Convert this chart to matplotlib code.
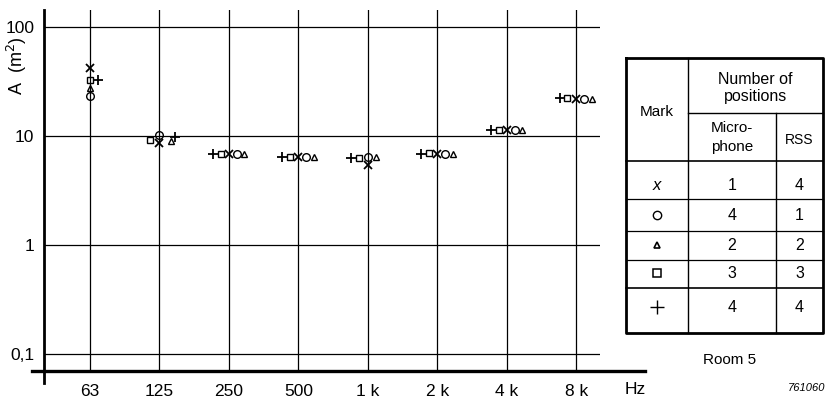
import matplotlib.pyplot as plt
import numpy as np

plt.rcParams['font.family'] = ['Liberation Sans', 'DejaVu Sans']

# octave band centre frequencies
freqs = ['63', '125', '250', '500', '1 k', '2 k', '4 k', '8 k']

# equivalent absorption area A (m^2) for each measurement arrangement
area_x = [42, 8.7, 6.8, 6.4, 5.4, 6.8, 11.3, 22]
area_circle = [23.3, 10.2, 6.8, 6.4, 6.4, 6.8, 11.3, 22]
area_triangle = [27.5, 8.9, 6.9, 6.4, 6.4, 6.8, 11.3, 22]
area_square = [32.5, 9.2, 6.9, 6.4, 6.3, 7.0, 11.4, 22.5]
area_plus = [32.5, 9.8, 6.9, 6.4, 6.3, 6.9, 11.4, 22.5]

# number of positions: microphone / RSS
mic_positions = [1, 4, 2, 3, 4]
rss_positions = [4, 1, 2, 3, 4]

# small sideways shifts so the symbols in a band don't sit on top of each other
shift_x = [0, 0, 0, 0, 0, 0, 0, 0]
shift_circle = [0, 0, .11, .11, 0, .11, .11, .11]
shift_triangle = [0, .16, .22, .22, .11, .22, .22, .22]
shift_square = [0, -.13, -.115, -.115, -.13, -.115, -.115, -.13]
shift_plus = [.12, .22, -.23, -.23, -.25, -.23, -.23, -.23]

W, H = 833, 398
fig = plt.figure(figsize=(W / 100, H / 100), dpi=100)
fig.patch.set_facecolor('white')

# plot area in pixels
L, R, T, B = 44, 600, 10, 371
ax = fig.add_axes([L / W, 1 - B / H, (R - L) / W, (B - T) / H])
ax.set_yscale('log')
ax.set_ylim(0.0698, 143)
ax.set_xlim(-0.662, 7.34)
for s in ax.spines.values():
    s.set_visible(False)

idx = np.arange(len(freqs))
ax.set_xticks(idx)
ax.set_xticklabels(freqs, fontsize=12.5)
ax.set_yticks([0.1, 1, 10, 100])
ax.set_yticklabels(['0,1', '1', '10', '100'], fontsize=12.5)
ax.yaxis.set_minor_locator(plt.NullLocator())
ax.tick_params(length=0)
ax.tick_params(axis='x', pad=9)
ax.tick_params(axis='y', pad=7)
ax.grid(True, which='major', color='black', lw=0.9)

series = [
    ('x', area_x, shift_x, 6),
    ('o', area_circle, shift_circle, 5.5),
    ('^', area_triangle, shift_triangle, 5),
    ('s', area_square, shift_square, 5),
    ('+', area_plus, shift_plus, 7),
]
for m, vals, sh, ms in series:
    ax.plot(idx + np.array(sh), vals, ls='none', marker=m, ms=ms,
            mfc='none', mec='black', mew=1.3 if m in 'x+' else 1.0,
            clip_on=False, zorder=3)

# overlay in pixel coordinates for the axis lines and the legend table
ov = fig.add_axes([0, 0, 1, 1])
ov.set_xlim(0, W)
ov.set_ylim(H, 0)
ov.axis('off')
ov.patch.set_alpha(0)

ov.text(17, 66, 'A  (m$^2$)', rotation=90, ha='center', va='center', fontsize=13)
ov.plot([L, L], [T, 383], color='black', lw=2)
ov.plot([32, 645], [B, B], color='black', lw=2.4)
ov.text(635, 389, 'Hz', ha='center', va='center', fontsize=12.5)

# table
tl, tr, tt, tb = 626, 823, 58, 333
c1, c2 = 688, 776
h_num, h_head = 113, 161
row_lines = [199, 231, 260, 288]
ov.plot([tl, tr, tr, tl, tl], [tt, tt, tb, tb, tt], color='black', lw=2)
ov.plot([c1, c1], [tt, tb], color='black', lw=1)
ov.plot([c2, c2], [h_num, tb], color='black', lw=1)
ov.plot([c1, tr], [h_num, h_num], color='black', lw=1)
ov.plot([tl, tr], [h_head, h_head], color='black', lw=1.2)
for y in row_lines:
    ov.plot([tl, tr], [y, y], color='black', lw=1.2 if y == 288 else 0.9)

fs = 11
ov.text((tl + c1) / 2, 112, 'Mark', ha='center', va='center', fontsize=fs)
ov.text((c1 + tr) / 2, 80, 'Number of', ha='center', va='center', fontsize=fs + 0.5)
ov.text((c1 + tr) / 2, 97, 'positions', ha='center', va='center', fontsize=fs + 0.5)
ov.text((c1 + c2) / 2, 128, 'Micro-', ha='center', va='center', fontsize=fs)
ov.text((c1 + c2) / 2, 147, 'phone', ha='center', va='center', fontsize=fs)
ov.text((c2 + tr) / 2, 140, 'RSS', ha='center', va='center', fontsize=fs - 1)

row_y = [185, 215, 245, 273, 307]
mark_cx = (tl + c1) / 2
ov.text(mark_cx, row_y[0], 'x', style='italic', ha='center', va='center', fontsize=12)
ov.plot(mark_cx, row_y[1], 'o', ms=6, mfc='none', mec='black', mew=1)
ov.plot(mark_cx, row_y[2], '^', ms=5, mfc='none', mec='black', mew=1.2)
ov.plot(mark_cx, row_y[3], 's', ms=5.5, mfc='none', mec='black', mew=1.1)
ov.plot(mark_cx, row_y[4], '+', ms=10, mec='black', mew=1)
for y, mic, rss in zip(row_y, mic_positions, rss_positions):
    ov.text((c1 + c2) / 2, y, str(mic), ha='center', va='center', fontsize=fs + 0.5)
    ov.text((c2 + tr) / 2, y, str(rss), ha='center', va='center', fontsize=fs + 0.5)

ov.text(730, 360, 'Room 5', ha='center', va='center', fontsize=11)
ov.text(807, 388, '761060', ha='center', va='center', fontsize=8, style='italic')

fig.savefig('out.png', dpi=100, facecolor='white')
